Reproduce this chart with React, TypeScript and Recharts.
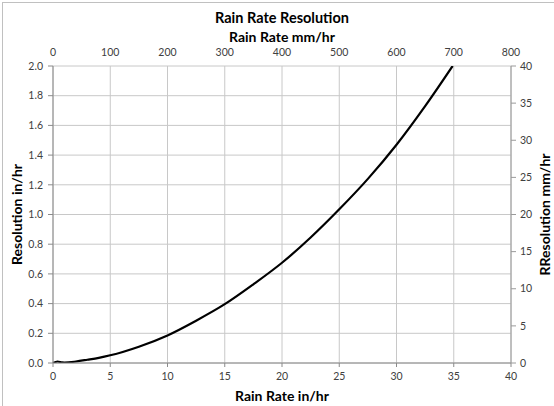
import React from 'react';
import { LineChart, Line, XAxis, YAxis, CartesianGrid } from 'recharts';

const rainRateInHr = [0, 0.4, 0.8, 1, 2, 3, 4, 5, 7.5, 10, 12.5, 15, 17.5, 20, 22.5, 25, 27.5, 30, 32.5, 34.9];
const resolutionInHr = [0, 0.01, 0.004, 0.003, 0.01, 0.022, 0.035, 0.052, 0.11, 0.186, 0.285, 0.396, 0.53, 0.675, 0.845, 1.035, 1.24, 1.47, 1.73, 2.0];

const xTicksIn = [0, 5, 10, 15, 20, 25, 30, 35, 40];
const xTicksMm = [0, 100, 200, 300, 400, 500, 600, 700, 800];
const yTicksIn = [0, 0.2, 0.4, 0.6, 0.8, 1.0, 1.2, 1.4, 1.6, 1.8, 2.0];
const yTicksMm = [0, 5, 10, 15, 20, 25, 30, 35, 40];

const data = rainRateInHr.map((x, i) => ({ x, y: resolutionInHr[i] }));

const FONT = 'Lato, "Open Sans", sans-serif';
const tickStyle = { fontSize: 10.5, fill: '#404040', fontFamily: FONT };
const titleStyle = { fontSize: 14, fontWeight: 700, fill: '#000', fontFamily: FONT, textAnchor: 'middle' as const };

export default function App() {
  return (
    <div style={{ position: 'absolute', left: 0, top: 0, width: 554, height: 406, overflow: 'hidden', background: '#fff' }}>
      <div style={{ position: 'absolute', left: 2, top: 2, width: 600, height: 450, border: '1px solid #c0c0c0', boxSizing: 'border-box' }} />
      <div style={{ position: 'absolute', left: 0, width: 564, top: 9, textAlign: 'center', fontFamily: FONT, fontWeight: 700, fontSize: 14.5, color: '#000', lineHeight: '18px' }}>
        Rain Rate Resolution
      </div>
      <LineChart width={554} height={406} data={data} margin={{ top: 0, right: 0, bottom: 0, left: 0 }} style={{ position: 'absolute', left: 0, top: 0 }}>
        <CartesianGrid xAxisId="bottom" yAxisId="left" stroke="#c8c8c8" strokeWidth={1} />
        <XAxis
          xAxisId="bottom"
          dataKey="x"
          type="number"
          domain={[0, 40]}
          ticks={xTicksIn}
          orientation="bottom"
          height={43}
          tick={tickStyle}
          tickSize={4}
          tickMargin={6}
          stroke="#8a8a8a"
          interval={0}
          label={{ value: 'Rain Rate in/hr', position: 'insideBottom', offset: 5, style: titleStyle }}
        />
        <XAxis
          xAxisId="top"
          dataKey="x"
          type="number"
          domain={[0, 800]}
          ticks={xTicksMm}
          allowDataOverflow
          orientation="top"
          height={66}
          tick={tickStyle}
          tickLine={false}
          tickSize={0}
          tickMargin={10}
          axisLine={false}
          interval={0}
          label={{ value: 'Rain Rate mm/hr', position: 'insideTop', offset: 32, style: titleStyle }}
        />
        <YAxis
          yAxisId="left"
          type="number"
          domain={[0, 2]}
          ticks={yTicksIn}
          allowDataOverflow
          width={53}
          tick={tickStyle}
          tickSize={5}
          tickMargin={5}
          stroke="#8a8a8a"
          interval={0}
          tickFormatter={(v: number) => v.toFixed(1)}
          label={{ value: 'Resolution in/hr', position: 'insideLeft', angle: -90, offset: 17, style: titleStyle }}
        />
        <YAxis
          yAxisId="right"
          orientation="right"
          type="number"
          domain={[0, 40]}
          ticks={yTicksMm}
          allowDataOverflow
          width={43}
          tick={tickStyle}
          tickSize={5}
          tickMargin={4}
          stroke="#9a9a9a"
          interval={0}
          label={{ value: 'RResolution mm/hr', position: 'insideRight', angle: -90, offset: 9, style: titleStyle }}
        />
        <Line
          xAxisId="top"
          yAxisId="right"
          type="linear"
          dataKey="y"
          stroke="none"
          strokeOpacity={0}
          dot={false}
          activeDot={false}
          legendType="none"
          isAnimationActive={false}
        />
        <Line
          xAxisId="bottom"
          yAxisId="left"
          type="monotone"
          dataKey="y"
          stroke="#000"
          strokeWidth={2.2}
          dot={false}
          isAnimationActive={false}
        />
      </LineChart>
    </div>
  );
}
